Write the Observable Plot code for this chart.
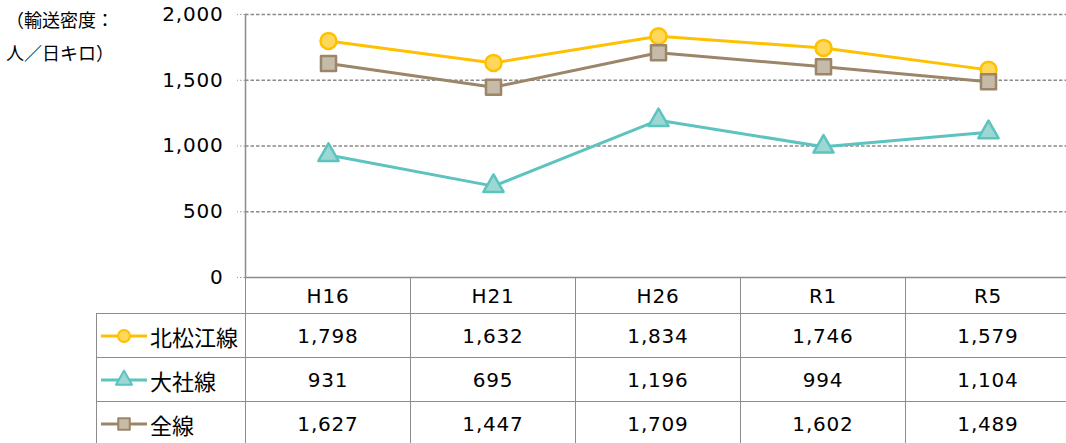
<!DOCTYPE html>
<html>
<head>
<meta charset="utf-8">
<script src="https://cdn.jsdelivr.net/npm/d3@7"></script>
<script src="https://cdn.jsdelivr.net/npm/@observablehq/plot@0.6"></script>
<style>
  html, body { margin: 0; padding: 0; background: #fff; overflow: hidden; }
  #wrap { position: relative; width: 1066px; height: 443px; overflow: hidden; }
  #chart { position: absolute; left: 0; top: 0; }
  #ytitle { position: absolute; left: 6px; top: 3px; font-family: "Noto Sans CJK JP"; font-size: 18px; line-height: 33px; color: #000; }
  #table { position: absolute; left: 96px; top: 277px; display: grid;
    grid-template-columns: 149px repeat(5, 165px); grid-template-rows: 36px 44px 44px 44px; }
  .cell { box-sizing: border-box; display: flex; align-items: center; justify-content: center;
    font-family: "DejaVu Sans"; font-size: 20px; letter-spacing: 0.8px; color: #000;
    border-left: 1.5px solid #8c8c8c; border-top: 1.5px solid #8c8c8c; }
  .blank { border: none; }
  .leg { justify-content: flex-start; padding-left: 4px; font-family: "Noto Sans CJK JP"; font-size: 22px; letter-spacing: 0; }
  .leg svg { margin-right: 3px; }
</style>
</head>
<body>
<div id="wrap">
  <div id="chart"></div>
  <div id="ytitle">（輸送密度：<br>人／日キロ）</div>
  <div id="table"></div>
</div>
<script>
const years = ["H16", "H21", "H26", "R1", "R5"];
const seriesNames = ["北松江線", "大社線", "全線"];
const kitamatsue = [1798, 1632, 1834, 1746, 1579];
const taisha = [931, 695, 1196, 994, 1104];
const zensen = [1627, 1447, 1709, 1602, 1489];
const yTicks = [0, 500, 1000, 1500, 2000];
const gridTicks = [500, 1000, 1500, 2000];

const seriesValues = [kitamatsue, taisha, zensen];
const seriesStyle = [
  {symbol: "circle", r: 8, line: "#FFC000", fill: "#FFD75A", legR: 6},
  {symbol: "triangle", r: 7.5, line: "#5CC3BE", fill: "#9BD8D4", legR: 6},
  {symbol: "square", r: 8.5, line: "#9B8669", fill: "#C6BBA8", legR: 6.5}
];

const fmt = d3.format(",");

const marks = [
  Plot.ruleY(gridTicks, {y: d => d, stroke: "#8a8a8a", strokeWidth: 1.3, strokeDasharray: "3.5,2"}),
  Plot.frame({anchor: "left", stroke: "#8c8c8c", strokeWidth: 1.5}),
  Plot.ruleY([0], {stroke: "#8c8c8c", strokeWidth: 1.5}),
  Plot.axisY({ticks: yTicks, tickSize: 8, tickPadding: 14, tickFormat: fmt, label: null,
              stroke: "#9a9a9a", strokeDasharray: "1.5,2", fill: "#000"})
];

seriesValues.forEach((vals, k) => {
  const data = years.map((yr, i) => ({year: yr, value: vals[i]}));
  const s = seriesStyle[k];
  marks.push(Plot.line(data, {x: "year", y: "value", stroke: s.line, strokeWidth: 3}));
  marks.push(Plot.dot(data, {x: "year", y: "value", symbol: s.symbol, r: s.r, fill: s.fill,
                             stroke: s.line, strokeWidth: 2.5, strokeLinejoin: "round"}));
});

const chart = Plot.plot({
  width: 1066,
  height: 300,
  marginLeft: 245,
  marginRight: 0,
  marginTop: 14,
  marginBottom: 23,
  x: {type: "point", domain: years, range: [245, 1070], padding: 0.5, axis: null},
  y: {domain: [0, 2000], range: [277, 14], axis: null},
  style: {fontFamily: "DejaVu Sans", fontSize: "20px", letterSpacing: "0.8px", background: "transparent", color: "#000"},
  marks
});
document.getElementById("chart").appendChild(chart);

// table
const table = document.getElementById("table");
function cell(html, cls) {
  const d = document.createElement("div");
  d.className = "cell" + (cls ? " " + cls : "");
  d.innerHTML = html;
  table.appendChild(d);
  return d;
}
cell("", "blank");
years.forEach(y => cell(y));

function swatch(s) {
  const w = 46, h = 22, cx = 23, cy = 11;
  const sym = {circle: d3.symbolCircle, triangle: d3.symbolTriangle, square: d3.symbolSquare}[s.symbol];
  const path = d3.symbol(sym, Math.PI * s.legR * s.legR)();
  return `<svg width="${w}" height="${h}" viewBox="0 0 ${w} ${h}">` +
    `<line x1="0" x2="${w}" y1="${cy}" y2="${cy}" stroke="${s.line}" stroke-width="3"/>` +
    `<path d="${path}" transform="translate(${cx},${cy})" fill="${s.fill}" stroke="${s.line}" stroke-width="2" stroke-linejoin="round"/>` +
    `</svg>`;
}

seriesNames.forEach((name, k) => {
  cell(swatch(seriesStyle[k]) + `<span>${name}</span>`, "leg");
  seriesValues[k].forEach(v => cell(fmt(v)));
});
</script>
</body>
</html>
